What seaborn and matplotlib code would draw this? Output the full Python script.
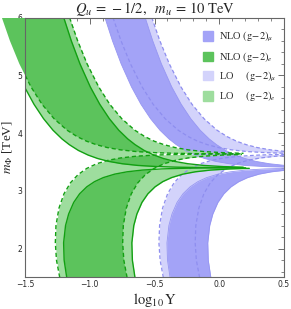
import matplotlib
matplotlib.use("Agg")
import matplotlib.pyplot as plt
import seaborn as sns
from matplotlib.patches import Patch
from matplotlib.path import Path
from matplotlib.ticker import MultipleLocator

# m_Phi grids (TeV) for upper / lower branches, NLO and LO
m_nlo_up = [6.0, 5.6, 5.2, 4.8, 4.5, 4.25, 4.05, 3.9, 3.8, 3.7, 3.62, 3.56, 3.51, 3.47,
            3.44, 3.42, 3.41, 3.405, 3.402, 3.401, 3.4003, 3.4001]
m_nlo_lo = [1.5, 1.8, 2.1, 2.4, 2.6, 2.8, 2.95, 3.07, 3.16, 3.23, 3.29, 3.33, 3.36, 3.38,
            3.39, 3.395, 3.398, 3.399, 3.3997, 3.3999]
m_lo_up = [6.0, 5.6, 5.2, 4.8, 4.5, 4.25, 4.05, 3.94, 3.86, 3.80, 3.75, 3.71, 3.68, 3.66,
           3.65, 3.645, 3.642, 3.641, 3.6403, 3.6401]
m_lo_lo = [1.5, 1.8, 2.1, 2.4, 2.7, 2.95, 3.14, 3.28, 3.39, 3.47, 3.53, 3.57, 3.60, 3.62,
           3.63, 3.635, 3.638, 3.639, 3.6397, 3.6399]

# log10 Y at the band edges, (g-2)_e  (green)
e_nlo_up_a = [-1.709, -1.651, -1.584, -1.504, -1.431, -1.357, -1.284, -1.215, -1.158, -1.088,
              -1.013, -0.939, -0.853, -0.751, -0.627, -0.475, -0.323, -0.172, 0.027, 0.178]
e_nlo_up_b = [-1.201, -1.143, -1.076, -0.996, -0.923, -0.849, -0.776, -0.707, -0.650, -0.580,
              -0.505, -0.431, -0.345, -0.243, -0.119, 0.033, 0.185]
e_nlo_lo_a = [-1.178, -1.198, -1.202, -1.187, -1.163, -1.124, -1.078, -1.023, -0.963, -0.895,
              -0.807, -0.712, -0.594, -0.445, -0.295, -0.145, 0.054, 0.204]
e_nlo_lo_b = [-0.651, -0.671, -0.675, -0.660, -0.636, -0.597, -0.551, -0.496, -0.436, -0.368,
              -0.280, -0.185, -0.067, 0.082, 0.232]
e_lo_up_a = [-1.679, -1.617, -1.544, -1.454, -1.369, -1.276, -1.175, -1.098, -1.025, -0.950,
             -0.865, -0.763, -0.639, -0.487, -0.336, -0.185, 0.015, 0.165]
e_lo_up_b = [-1.156, -1.094, -1.021, -0.931, -0.846, -0.753, -0.652, -0.575, -0.502, -0.427,
             -0.342, -0.240, -0.116, 0.036, 0.187]
e_lo_lo_a = [-1.232, -1.257, -1.266, -1.261, -1.238, -1.199, -1.149, -1.091, -1.022, -0.946,
             -0.857, -0.762, -0.643, -0.494, -0.345, -0.195, 0.004, 0.154]
e_lo_lo_b = [-0.712, -0.737, -0.746, -0.741, -0.718, -0.679, -0.629, -0.571, -0.502, -0.426,
             -0.337, -0.242, -0.123, 0.026, 0.175]

# log10 Y at the band edges, (g-2)_mu  (blue)
mu_nlo_up_a = [-0.883, -0.825, -0.758, -0.678, -0.605, -0.531, -0.458, -0.389, -0.332, -0.262,
               -0.187, -0.113, -0.027, 0.075, 0.199, 0.351, 0.503, 0.654, 0.853, 1.004, 1.265, 1.504]
mu_nlo_up_b = [-0.572, -0.514, -0.447, -0.367, -0.294, -0.220, -0.147, -0.078, -0.021, 0.049,
               0.124, 0.198, 0.284, 0.386, 0.510, 0.662, 0.814, 0.965, 1.164, 1.315, 1.576, 1.815]
mu_nlo_lo_a = [-0.380, -0.400, -0.404, -0.389, -0.365, -0.326, -0.280, -0.225, -0.165, -0.097,
               -0.009, 0.086, 0.204, 0.353, 0.503, 0.653, 0.852, 1.002, 1.264, 1.502]
mu_nlo_lo_b = [-0.065, -0.085, -0.089, -0.074, -0.050, -0.011, 0.035, 0.090, 0.150, 0.218,
               0.306, 0.401, 0.519, 0.668, 0.818, 0.968, 1.167, 1.317, 1.579, 1.817]
mu_lo_up_a = [-0.821, -0.759, -0.686, -0.596, -0.511, -0.418, -0.317, -0.240, -0.167, -0.092,
              -0.007, 0.095, 0.219, 0.371, 0.522, 0.673, 0.873, 1.023, 1.285, 1.523]
mu_lo_up_b = [-0.521, -0.459, -0.386, -0.296, -0.211, -0.118, -0.017, 0.060, 0.133, 0.208,
              0.293, 0.395, 0.519, 0.671, 0.822, 0.973, 1.173, 1.323, 1.585, 1.823]
mu_lo_lo_a = [-0.432, -0.457, -0.466, -0.461, -0.438, -0.399, -0.349, -0.291, -0.222, -0.146,
              -0.057, 0.038, 0.157, 0.306, 0.455, 0.605, 0.804, 0.954, 1.216, 1.454]
mu_lo_lo_b = [-0.152, -0.177, -0.186, -0.181, -0.158, -0.119, -0.069, -0.011, 0.058, 0.134,
              0.223, 0.318, 0.437, 0.586, 0.735, 0.885, 1.084, 1.234, 1.496, 1.734]

legend_labels = [r"NLO $(\mathrm{g}\!-\!2)_\mu$", r"NLO $(\mathrm{g}\!-\!2)_e$",
                 r"LO     $(\mathrm{g}\!-\!2)_\mu$", r"LO     $(\mathrm{g}\!-\!2)_e$"]

green_dark, green_light, green_line = "#5cc35c", "#9edd9e", "#12a012"
blue_dark, blue_light, blue_line = "#a3a3f7", "#d3d3fb", "#8e8eef"

sns.set_theme(style="white")
plt.rcParams["font.family"] = ["Liberation Serif", "DejaVu Serif"]
plt.rcParams["mathtext.fontset"] = "stix"

fig = plt.figure(figsize=(2.91, 3.09), dpi=100)
ax = fig.add_axes([0.086, 0.102, 0.890, 0.841])


def band(ax, m, a, b, color):
    n = min(len(a), len(b))
    return ax.fill_betweenx(m[:n], a[:n], b[:n], color=color, lw=0)


# blue (muon): LO light underneath, NLO dark on top
band(ax, m_lo_up, mu_lo_up_a, mu_lo_up_b, blue_light)
band(ax, m_lo_lo, mu_lo_lo_a, mu_lo_lo_b, blue_light)
band(ax, m_nlo_up, mu_nlo_up_a, mu_nlo_up_b, blue_dark)
band(ax, m_nlo_lo, mu_nlo_lo_a, mu_nlo_lo_b, blue_dark)

# green (electron): both light, overlap dark
lo_polys = [band(ax, m_lo_up, e_lo_up_a, e_lo_up_b, green_light),
            band(ax, m_lo_lo, e_lo_lo_a, e_lo_lo_b, green_light)]
band(ax, m_nlo_up, e_nlo_up_a, e_nlo_up_b, green_light)
band(ax, m_nlo_lo, e_nlo_lo_a, e_nlo_lo_b, green_light)
clip = Path.make_compound_path(*[p.get_paths()[0] for p in lo_polys])
for poly in [band(ax, m_nlo_up, e_nlo_up_a, e_nlo_up_b, green_dark),
             band(ax, m_nlo_lo, e_nlo_lo_a, e_nlo_lo_b, green_dark)]:
    poly.set_clip_path(clip, ax.transData)


def edge(x, m, color, ls, lw):
    sns.lineplot(x=x, y=m[:len(x)], sort=False, estimator=None, color=color,
                 linestyle=ls, lw=lw, ax=ax)


for x, m in [(mu_nlo_up_a, m_nlo_up), (mu_nlo_up_b, m_nlo_up),
             (mu_nlo_lo_a, m_nlo_lo), (mu_nlo_lo_b, m_nlo_lo)]:
    edge(x, m, "#9696f2", "-", 0.6)
for x, m in [(mu_lo_up_a, m_lo_up), (mu_lo_up_b, m_lo_up),
             (mu_lo_lo_a, m_lo_lo), (mu_lo_lo_b, m_lo_lo)]:
    edge(x, m, blue_line, (0, (3, 2)), 0.9)
for x, m in [(e_nlo_up_a, m_nlo_up), (e_nlo_up_b, m_nlo_up),
             (e_nlo_lo_a, m_nlo_lo), (e_nlo_lo_b, m_nlo_lo)]:
    edge(x, m, green_line, "-", 1.0)
for x, m in [(e_lo_up_a, m_lo_up), (e_lo_up_b, m_lo_up),
             (e_lo_lo_a, m_lo_lo), (e_lo_lo_b, m_lo_lo)]:
    edge(x, m, green_line, (0, (3, 2)), 1.0)

ax.set_xlim(-1.5, 0.5)
ax.set_ylim(1.5, 6.0)
ax.set_xticks([-1.5, -1.0, -0.5, 0.0, 0.5])
ax.set_yticks([2, 3, 4, 5, 6])
ax.xaxis.set_minor_locator(MultipleLocator(0.1))
ax.yaxis.set_minor_locator(MultipleLocator(0.2))
ax.tick_params(which="both", direction="in", top=True, right=True, color="#555555",
               labelsize=5.5, pad=2, labelfontfamily="DejaVu Sans")
ax.tick_params(which="major", length=4, width=0.6)
ax.tick_params(which="minor", length=2, width=0.5)
for s in ax.spines.values():
    s.set_color("#666666")
    s.set_linewidth(0.8)

ax.set_title(r"$Q_u\,=\,-1/2,\ \ m_u\,=\,10\ \mathrm{TeV}$", fontsize=10.5, pad=3)
ax.set_xlabel(r"$\log_{10}\mathrm{Y}$", fontsize=10.5, labelpad=1)
ax.set_ylabel(r"$m_\Phi$ [TeV]", fontsize=9.5, labelpad=2)

handles = [Patch(color=c) for c in [blue_dark, green_dark, blue_light, green_light]]
ax.legend(handles, legend_labels, loc="upper right", bbox_to_anchor=(1.0, 0.98),
          frameon=False, fontsize=7.5, handlelength=1.0, handleheight=1.0,
          handletextpad=0.6, labelspacing=0.55, borderaxespad=0.3)

fig.savefig("out.png", dpi=100)
